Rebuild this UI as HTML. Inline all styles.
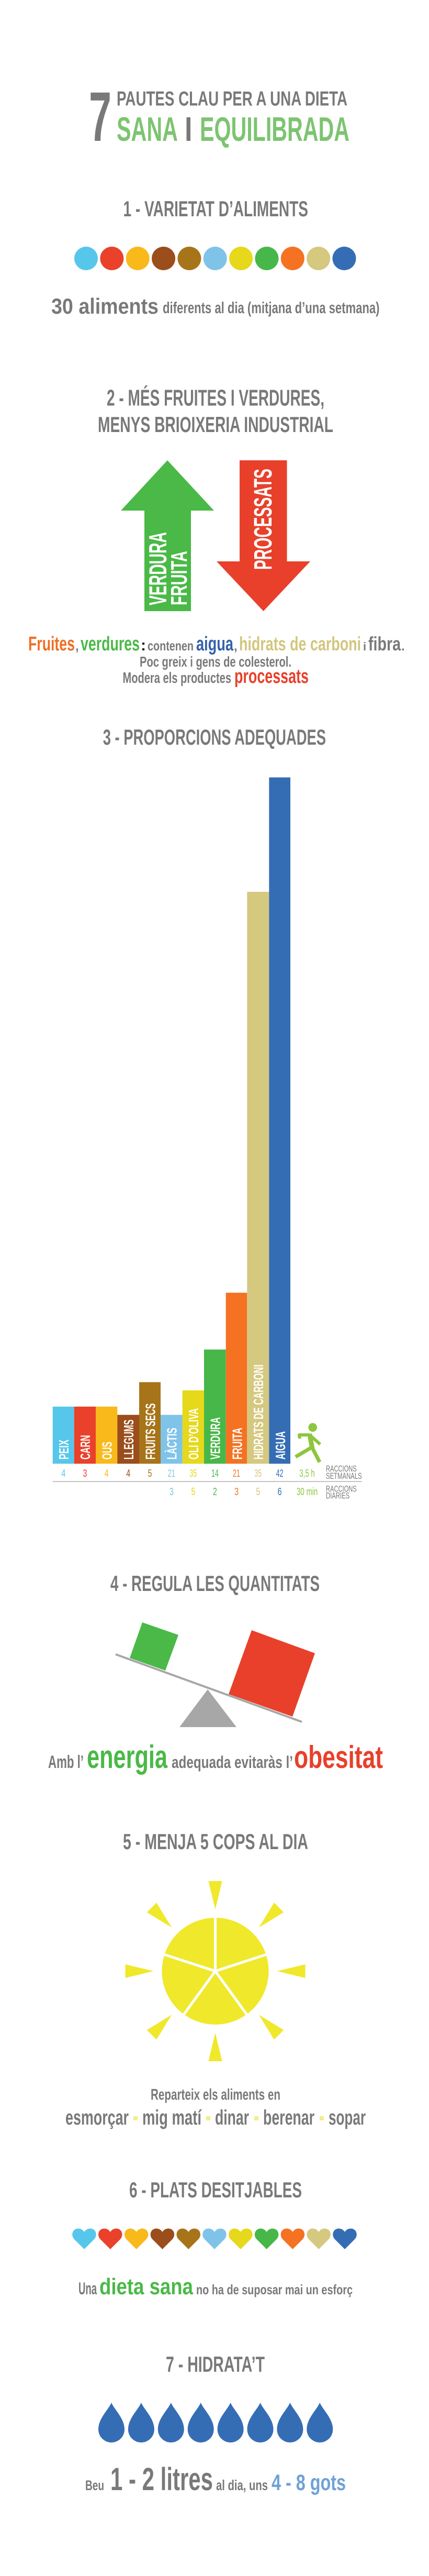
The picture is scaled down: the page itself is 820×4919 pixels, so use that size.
<!DOCTYPE html>
<html>
<head>
<meta charset="utf-8">
<style>
html,body{margin:0;padding:0;background:#fff;}
svg{display:block;}
text{font-family:"Liberation Sans Narrow","Liberation Sans",sans-serif;font-weight:bold;}
.g{fill:#797979;}
.n{font-weight:normal;}
</style>
</head>
<body>
<svg width="820" height="4919" viewBox="0 0 820 4919" xmlns="http://www.w3.org/2000/svg">
<rect x="0" y="0" width="820" height="4919" fill="#fff"/>

<!-- TITLE -->
<text x="170" y="269" font-size="134" textLength="43" lengthAdjust="spacingAndGlyphs" class="g">7</text>
<text x="223" y="201.5" font-size="38.5" textLength="441" lengthAdjust="spacingAndGlyphs" class="g">PAUTES CLAU PER A UNA DIETA</text>
<text x="223" y="269" font-size="65" textLength="117" lengthAdjust="spacingAndGlyphs" fill="#7dc471">SANA</text>
<rect x="356.5" y="224" width="7.5" height="45" fill="#797979"/>
<text x="382" y="269" font-size="65" textLength="286" lengthAdjust="spacingAndGlyphs" fill="#7dc471">EQUILIBRADA</text>

<!-- SECTION 1 -->
<text x="235.5" y="413" font-size="42" textLength="353.5" lengthAdjust="spacingAndGlyphs" class="g">1 - VARIETAT D’ALIMENTS</text>
<g>
<circle cx="164.5" cy="493.5" r="22.5" fill="#56c7eb"/>
<circle cx="213.85" cy="493.5" r="22.5" fill="#e9412a"/>
<circle cx="263.2" cy="493.5" r="22.5" fill="#f9b91a"/>
<circle cx="312.55" cy="493.5" r="22.5" fill="#9b4d1b"/>
<circle cx="361.9" cy="493.5" r="22.5" fill="#a77419"/>
<circle cx="411.25" cy="493.5" r="22.5" fill="#80c3e9"/>
<circle cx="460.6" cy="493.5" r="22.5" fill="#e6d81a"/>
<circle cx="509.95" cy="493.5" r="22.5" fill="#48b749"/>
<circle cx="559.3" cy="493.5" r="22.5" fill="#f47221"/>
<circle cx="608.65" cy="493.5" r="22.5" fill="#d5c87f"/>
<circle cx="658" cy="493.5" r="22.5" fill="#356db5"/>
</g>
<text x="98" y="599" font-size="42" textLength="205" lengthAdjust="spacingAndGlyphs" class="g">30 aliments</text>
<text x="311" y="598" font-size="31" textLength="414.5" lengthAdjust="spacingAndGlyphs" class="g">diferents al dia (mitjana d’una setmana)</text>

<!-- SECTION 2 -->
<text x="204" y="774.5" font-size="43.5" textLength="416" lengthAdjust="spacingAndGlyphs" class="g">2 - MÉS FRUITES I VERDURES,</text>
<text x="187" y="825" font-size="42" textLength="450" lengthAdjust="spacingAndGlyphs" class="g">MENYS BRIOIXERIA INDUSTRIAL</text>

<polygon points="320,879 409,975 365,975 365,1167 276,1167 276,975 231,975" fill="#4ab947"/>
<polygon points="458,879 548.5,879 548.5,1072 593,1072 503.5,1167 414,1072 458,1072" fill="#e8402a"/>
<text transform="translate(318,1156) rotate(-90)" x="0" y="0" font-size="47" textLength="140" lengthAdjust="spacingAndGlyphs" fill="#fff">VERDURA</text>
<text transform="translate(357,1156) rotate(-90)" x="0" y="0" font-size="44" textLength="104" lengthAdjust="spacingAndGlyphs" fill="#fff">FRUITA</text>
<text transform="translate(519,1088) rotate(-90)" x="0" y="0" font-size="48" textLength="193" lengthAdjust="spacingAndGlyphs" fill="#fff">PROCESSATS</text>

<text x="54" y="1242" font-size="38" textLength="89" lengthAdjust="spacingAndGlyphs" fill="#ef7024">Fruites</text>
<text x="144" y="1242" font-size="24" class="g">,</text>
<text x="154" y="1242" font-size="38" textLength="113" lengthAdjust="spacingAndGlyphs" fill="#4ab947">verdures</text>
<text x="269" y="1242" font-size="30" fill="#231f20">:</text>
<text x="282" y="1242" font-size="26" textLength="88" lengthAdjust="spacingAndGlyphs" class="g">contenen</text>
<text x="375" y="1242" font-size="38" textLength="71" lengthAdjust="spacingAndGlyphs" fill="#3462ac">aigua</text>
<text x="447" y="1242" font-size="24" class="g">,</text>
<text x="457" y="1242" font-size="37" textLength="233" lengthAdjust="spacingAndGlyphs" fill="#d2c67e">hidrats de carboni</text>
<text x="694" y="1242" font-size="22" class="g">i</text>
<text x="704" y="1242" font-size="37" textLength="62" lengthAdjust="spacingAndGlyphs" class="g">fibra</text>
<text x="767" y="1242" font-size="24" class="g">.</text>
<text x="267" y="1273" font-size="28" textLength="290" lengthAdjust="spacingAndGlyphs" class="g">Poc greix i gens de colesterol.</text>
<text x="234.5" y="1304" font-size="29" textLength="207.5" lengthAdjust="spacingAndGlyphs" class="g">Modera els productes</text>
<text x="448" y="1304" font-size="38" textLength="142" lengthAdjust="spacingAndGlyphs" fill="#e8402a">processats</text>

<!-- SECTION 3 -->
<text x="196.7" y="1422" font-size="42" textLength="426.3" lengthAdjust="spacingAndGlyphs" class="g">3 - PROPORCIONS ADEQUADES</text>

<rect x="100.7" y="2686" width="41" height="109" fill="#56c7eb"/>
<rect x="141.7" y="2686" width="41.3" height="109" fill="#e9412a"/>
<rect x="183" y="2686" width="41.3" height="109" fill="#f9b91a"/>
<rect x="224.3" y="2701.7" width="41.7" height="93.3" fill="#9b4d1b"/>
<rect x="266" y="2639.3" width="41" height="155.7" fill="#a77419"/>
<rect x="307" y="2701.7" width="41.7" height="93.3" fill="#80c3e9"/>
<rect x="348.7" y="2655" width="41.3" height="140" fill="#e6d81a"/>
<rect x="390" y="2577" width="41.7" height="218" fill="#48b749"/>
<rect x="431.7" y="2468.5" width="40.6" height="326.5" fill="#f47221"/>
<rect x="472.3" y="1703" width="42" height="1092" fill="#d5c87f"/>
<rect x="514.3" y="1484.5" width="40.7" height="1310.5" fill="#356db5"/>

<g fill="#fff" font-size="26">
<text transform="translate(131.2,2787) rotate(-90)" textLength="38" lengthAdjust="spacingAndGlyphs">PEIX</text>
<text transform="translate(172.2,2787) rotate(-90)" textLength="46.7" lengthAdjust="spacingAndGlyphs">CARN</text>
<text transform="translate(213.5,2787) rotate(-90)" textLength="34" lengthAdjust="spacingAndGlyphs">OUS</text>
<text transform="translate(254.8,2787) rotate(-90)" textLength="76.3" lengthAdjust="spacingAndGlyphs">LLEGUMS</text>
<text transform="translate(296.5,2787) rotate(-90)" textLength="107.3" lengthAdjust="spacingAndGlyphs">FRUITS SECS</text>
<text transform="translate(337.5,2787) rotate(-90)" textLength="60.7" lengthAdjust="spacingAndGlyphs">LÀCTIS</text>
<text transform="translate(379.2,2787) rotate(-90)" textLength="98" lengthAdjust="spacingAndGlyphs">OLI D’OLIVA</text>
<text transform="translate(420.5,2787) rotate(-90)" textLength="80.7" lengthAdjust="spacingAndGlyphs">VERDURA</text>
<text transform="translate(462.5,2787) rotate(-90)" textLength="60.7" lengthAdjust="spacingAndGlyphs">FRUITA</text>
<text transform="translate(503,2787) rotate(-90)" textLength="181.3" lengthAdjust="spacingAndGlyphs">HIDRATS DE CARBONI</text>
<text transform="translate(545,2787) rotate(-90)" textLength="54" lengthAdjust="spacingAndGlyphs">AIGUA</text>
</g>

<g font-size="20" class="n">
<text x="117.2" y="2820" textLength="8" lengthAdjust="spacingAndGlyphs" fill="#56c7eb" class="n">4</text>
<text x="158.35" y="2820" textLength="8" lengthAdjust="spacingAndGlyphs" fill="#e9412a" class="n">3</text>
<text x="199.65" y="2820" textLength="8" lengthAdjust="spacingAndGlyphs" fill="#f9b91a" class="n">4</text>
<text x="241.15" y="2820" textLength="8" lengthAdjust="spacingAndGlyphs" fill="#9b4d1b" class="n">4</text>
<text x="282.5" y="2820" textLength="8" lengthAdjust="spacingAndGlyphs" fill="#a77419" class="n">5</text>
<text x="320.85" y="2820" textLength="14" lengthAdjust="spacingAndGlyphs" fill="#80c3e9" class="n">21</text>
<text x="362.35" y="2820" textLength="14" lengthAdjust="spacingAndGlyphs" fill="#e6d81a" class="n">35</text>
<text x="403.85" y="2820" textLength="14" lengthAdjust="spacingAndGlyphs" fill="#48b749" class="n">14</text>
<text x="445" y="2820" textLength="14" lengthAdjust="spacingAndGlyphs" fill="#f47221" class="n">21</text>
<text x="486.3" y="2820" textLength="14" lengthAdjust="spacingAndGlyphs" fill="#d5c87f" class="n">35</text>
<text x="527.65" y="2820" textLength="14" lengthAdjust="spacingAndGlyphs" fill="#356db5" class="n">42</text>
<text x="323.85" y="2855" textLength="8" lengthAdjust="spacingAndGlyphs" fill="#80c3e9" class="n">3</text>
<text x="365.35" y="2855" textLength="8" lengthAdjust="spacingAndGlyphs" fill="#e6d81a" class="n">5</text>
<text x="406.85" y="2855" textLength="8" lengthAdjust="spacingAndGlyphs" fill="#48b749" class="n">2</text>
<text x="448" y="2855" textLength="8" lengthAdjust="spacingAndGlyphs" fill="#f47221" class="n">3</text>
<text x="489.3" y="2855" textLength="8" lengthAdjust="spacingAndGlyphs" fill="#d5c87f" class="n">5</text>
<text x="530.65" y="2855" textLength="8" lengthAdjust="spacingAndGlyphs" fill="#356db5" class="n">6</text>
<text x="572.3" y="2820" textLength="29.4" lengthAdjust="spacingAndGlyphs" fill="#8dc63f" class="n">3,5 h</text>
<text x="566.7" y="2855" textLength="40.6" lengthAdjust="spacingAndGlyphs" fill="#8dc63f" class="n">30 min</text>
</g>
<line x1="100.7" y1="2829" x2="691.7" y2="2829" stroke="#8a8a8a" stroke-width="1"/>
<g font-size="17" fill="#797979">
<text x="623" y="2810" textLength="58.7" lengthAdjust="spacingAndGlyphs" class="n">RACCIONS</text>
<text x="623" y="2824" textLength="68.7" lengthAdjust="spacingAndGlyphs" class="n">SETMANALS</text>
<text x="623" y="2848.3" textLength="58.7" lengthAdjust="spacingAndGlyphs" class="n">RACCIONS</text>
<text x="623" y="2861.7" textLength="45.3" lengthAdjust="spacingAndGlyphs" class="n">DIARIES</text>
</g>
<!-- walking figure -->
<g stroke="#8dc63f" fill="none" stroke-linejoin="round">
<circle cx="597.7" cy="2725.7" r="8.3" fill="#8dc63f" stroke="none"/>
<line x1="591.7" y1="2738" x2="596.7" y2="2765" stroke-width="9"/>
<polyline points="592,2740 572,2740 573,2747" stroke-width="6"/>
<line x1="593" y1="2741" x2="612" y2="2758" stroke-width="6"/>
<line x1="597" y1="2763" x2="565" y2="2782" stroke-width="7"/>
<line x1="596" y1="2763" x2="611" y2="2792" stroke-width="7"/>
</g>

<!-- SECTION 4 -->
<text x="211" y="3038" font-size="42" textLength="400" lengthAdjust="spacingAndGlyphs" class="g">4 - REGULA LES QUANTITATS</text>
<polygon points="397,3226 343,3298 452,3298" fill="#a7a7a8"/>
<line x1="221" y1="3159" x2="577" y2="3288" stroke="#a7a7a8" stroke-width="4"/>
<polygon points="272,3098 341,3122 316,3190 248,3166" fill="#4ab947"/>
<polygon points="481,3113 602,3157 559,3278 437,3235" fill="#e8402a"/>
<text x="92" y="3376" font-size="34" textLength="68" lengthAdjust="spacingAndGlyphs" class="g">Amb l’</text>
<text x="166" y="3376" font-size="62" textLength="154" lengthAdjust="spacingAndGlyphs" fill="#4ab947">energia</text>
<text x="328" y="3376" font-size="32" textLength="232" lengthAdjust="spacingAndGlyphs" class="g">adequada evitaràs l’</text>
<text x="562" y="3376" font-size="60" textLength="170" lengthAdjust="spacingAndGlyphs" fill="#e8402a">obesitat</text>

<!-- SECTION 5 -->
<text x="235" y="3531" font-size="42" textLength="354" lengthAdjust="spacingAndGlyphs" class="g">5 - MENJA 5 COPS AL DIA</text>
<g fill="#f0e82a">
<circle cx="411.5" cy="3764" r="102"/>
<polygon points="411.5,3646 424.5,3592 398.5,3592"/>
<polygon points="494.9,3680.6 542.3,3651.6 523.9,3633.2"/>
<polygon points="529.5,3764 583.5,3777 583.5,3751"/>
<polygon points="494.9,3847.4 523.9,3894.8 542.3,3876.4"/>
<polygon points="411.5,3882 398.5,3936 424.5,3936"/>
<polygon points="328.1,3847.4 280.7,3876.4 299.1,3894.8"/>
<polygon points="293.5,3764 239.5,3751 239.5,3777"/>
<polygon points="328.1,3680.6 299.1,3633.2 280.7,3651.6"/>
</g>
<g stroke="#fff" stroke-width="5" stroke-linecap="butt">
<line x1="411.5" y1="3764" x2="411.5" y2="3654"/>
<line x1="411.5" y1="3764" x2="516.1" y2="3730"/>
<line x1="411.5" y1="3764" x2="476.2" y2="3853"/>
<line x1="411.5" y1="3764" x2="346.8" y2="3853"/>
<line x1="411.5" y1="3764" x2="306.9" y2="3730"/>
</g>
<text x="288" y="4009.5" font-size="30" textLength="248" lengthAdjust="spacingAndGlyphs" class="g">Reparteix els aliments en</text>
<g font-size="40" class="g">
<text x="125" y="4057" textLength="121" lengthAdjust="spacingAndGlyphs">esmorçar</text>
<text x="272" y="4057" textLength="113" lengthAdjust="spacingAndGlyphs">mig matí</text>
<text x="411" y="4057" textLength="65" lengthAdjust="spacingAndGlyphs">dinar</text>
<text x="503" y="4057" textLength="98" lengthAdjust="spacingAndGlyphs">berenar</text>
<text x="628" y="4057" textLength="71" lengthAdjust="spacingAndGlyphs">sopar</text>
</g>
<g fill="#f4ed8a">
<rect x="255" y="4041" width="8" height="8"/>
<rect x="394" y="4041" width="8" height="8"/>
<rect x="486" y="4041" width="8" height="8"/>
<rect x="611" y="4041" width="8" height="8"/>
</g>

<!-- SECTION 6 -->
<text x="247" y="4196" font-size="42" textLength="330" lengthAdjust="spacingAndGlyphs" class="g">6 - PLATS DESITJABLES</text>
<g>
<path transform="translate(138,4255)" d="M23 40 L4 21 C-2 15 -1 3 9 0.8 C15 -0.4 20 2.5 23 7 C26 2.5 31 -0.4 37 0.8 C47 3 48 15 42 21 Z" fill="#56c7eb"/>
<path transform="translate(187.8,4255)" d="M23 40 L4 21 C-2 15 -1 3 9 0.8 C15 -0.4 20 2.5 23 7 C26 2.5 31 -0.4 37 0.8 C47 3 48 15 42 21 Z" fill="#e9412a"/>
<path transform="translate(237.6,4255)" d="M23 40 L4 21 C-2 15 -1 3 9 0.8 C15 -0.4 20 2.5 23 7 C26 2.5 31 -0.4 37 0.8 C47 3 48 15 42 21 Z" fill="#f9b91a"/>
<path transform="translate(287.4,4255)" d="M23 40 L4 21 C-2 15 -1 3 9 0.8 C15 -0.4 20 2.5 23 7 C26 2.5 31 -0.4 37 0.8 C47 3 48 15 42 21 Z" fill="#9b4d1b"/>
<path transform="translate(337.2,4255)" d="M23 40 L4 21 C-2 15 -1 3 9 0.8 C15 -0.4 20 2.5 23 7 C26 2.5 31 -0.4 37 0.8 C47 3 48 15 42 21 Z" fill="#a77419"/>
<path transform="translate(387,4255)" d="M23 40 L4 21 C-2 15 -1 3 9 0.8 C15 -0.4 20 2.5 23 7 C26 2.5 31 -0.4 37 0.8 C47 3 48 15 42 21 Z" fill="#80c3e9"/>
<path transform="translate(436.8,4255)" d="M23 40 L4 21 C-2 15 -1 3 9 0.8 C15 -0.4 20 2.5 23 7 C26 2.5 31 -0.4 37 0.8 C47 3 48 15 42 21 Z" fill="#e6d81a"/>
<path transform="translate(486.6,4255)" d="M23 40 L4 21 C-2 15 -1 3 9 0.8 C15 -0.4 20 2.5 23 7 C26 2.5 31 -0.4 37 0.8 C47 3 48 15 42 21 Z" fill="#48b749"/>
<path transform="translate(536.4,4255)" d="M23 40 L4 21 C-2 15 -1 3 9 0.8 C15 -0.4 20 2.5 23 7 C26 2.5 31 -0.4 37 0.8 C47 3 48 15 42 21 Z" fill="#f47221"/>
<path transform="translate(586.2,4255)" d="M23 40 L4 21 C-2 15 -1 3 9 0.8 C15 -0.4 20 2.5 23 7 C26 2.5 31 -0.4 37 0.8 C47 3 48 15 42 21 Z" fill="#d5c87f"/>
<path transform="translate(636,4255)" d="M23 40 L4 21 C-2 15 -1 3 9 0.8 C15 -0.4 20 2.5 23 7 C26 2.5 31 -0.4 37 0.8 C47 3 48 15 42 21 Z" fill="#356db5"/>
</g>
<text x="150" y="4381" font-size="32" textLength="35" lengthAdjust="spacingAndGlyphs" class="g">Una</text>
<text x="190" y="4381" font-size="44" textLength="179" lengthAdjust="spacingAndGlyphs" fill="#4ab947">dieta sana</text>
<text x="375" y="4381" font-size="26" textLength="299" lengthAdjust="spacingAndGlyphs" class="g">no ha de suposar mai un esforç</text>

<!-- SECTION 7 -->
<text x="317" y="4529" font-size="42" textLength="189" lengthAdjust="spacingAndGlyphs" class="g">7 - HIDRATA’T</text>
<g fill="#356db5">
<path transform="translate(213,4588)" d="M0 0 C6 14 25 30 25 51 A25 25 0 0 1 -25 51 C-25 30 -6 14 0 0 Z"/>
<path transform="translate(269.9,4588)" d="M0 0 C6 14 25 30 25 51 A25 25 0 0 1 -25 51 C-25 30 -6 14 0 0 Z"/>
<path transform="translate(326.8,4588)" d="M0 0 C6 14 25 30 25 51 A25 25 0 0 1 -25 51 C-25 30 -6 14 0 0 Z"/>
<path transform="translate(383.7,4588)" d="M0 0 C6 14 25 30 25 51 A25 25 0 0 1 -25 51 C-25 30 -6 14 0 0 Z"/>
<path transform="translate(440.6,4588)" d="M0 0 C6 14 25 30 25 51 A25 25 0 0 1 -25 51 C-25 30 -6 14 0 0 Z"/>
<path transform="translate(497.5,4588)" d="M0 0 C6 14 25 30 25 51 A25 25 0 0 1 -25 51 C-25 30 -6 14 0 0 Z"/>
<path transform="translate(554.4,4588)" d="M0 0 C6 14 25 30 25 51 A25 25 0 0 1 -25 51 C-25 30 -6 14 0 0 Z"/>
<path transform="translate(611.3,4588)" d="M0 0 C6 14 25 30 25 51 A25 25 0 0 1 -25 51 C-25 30 -6 14 0 0 Z"/>
</g>
<text x="163" y="4755" font-size="27" textLength="36" lengthAdjust="spacingAndGlyphs" class="g">Beu</text>
<text x="211" y="4755" font-size="61" textLength="196" lengthAdjust="spacingAndGlyphs" class="g">1 - 2 litres</text>
<text x="413" y="4755" font-size="28" textLength="99" lengthAdjust="spacingAndGlyphs" class="g">al dia, uns</text>
<text x="519" y="4755" font-size="43" textLength="142" lengthAdjust="spacingAndGlyphs" fill="#6fa1d6">4 - 8 gots</text>
</svg>
</body>
</html>
